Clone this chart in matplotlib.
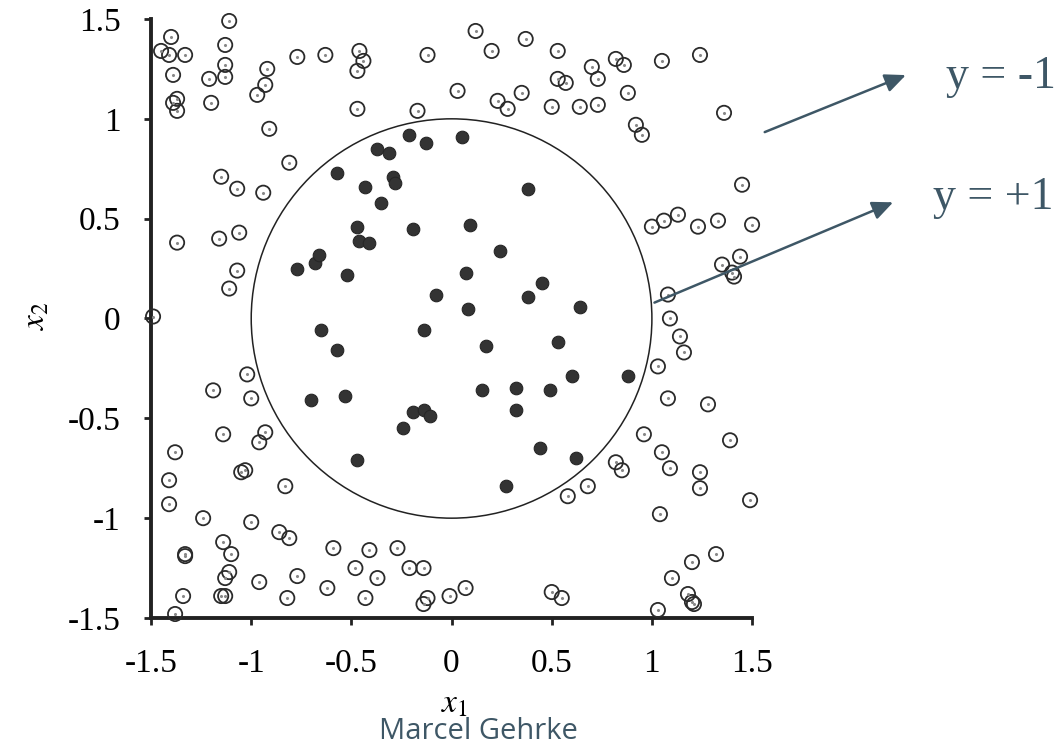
import matplotlib
matplotlib.use('Agg')
import matplotlib.pyplot as plt

# points outside the circle (y = -1)
open_x = [-1.11, -1.40, -1.45, -1.41, -1.33, -1.13, -1.13, -1.13, -1.39, -1.21, -1.37, -1.39, -1.37, -1.20,
          -0.92, -0.93, -0.97, -0.77, -0.63, -0.91, -0.81, -1.15, -1.07, -0.94, -1.37, -1.16, -1.06, -1.07,
          -1.11, -1.49,
          -0.46, -0.44, -0.47, -0.47, -0.12, -0.17, 0.12, 0.20, 0.37, 0.03, 0.23, 0.28, 0.35,
          0.53, 0.70, 0.82, 0.86, 1.05, 1.24, 0.53, 0.57, 0.73, 0.88, 0.50, 0.64, 0.73, 0.92, 0.95,
          1.36, 1.45, 1.00, 1.06, 1.13, 1.23, 1.33, 1.50, 1.35, 1.44, 1.40, 1.41, 1.08,
          1.09, 1.14, 1.16, 1.03, 1.08, 1.28, 0.96, 1.39, 1.05, 1.09, 1.24, 1.24, 1.49, 0.82, 0.85,
          0.68, 0.58, 1.04, 1.32, 1.20, 1.10, 1.18, 1.20, 1.21, 1.03, 0.50, 0.55,
          -0.41, -0.27, -0.48, -0.37, -0.21, -0.14, -0.43, -0.12, -0.14, -0.01, 0.07,
          -1.02, -1.19, -1.00, -1.14, -0.93, -0.96, -1.38, -1.05, -1.03, -0.83, -1.41, -1.41, -1.24,
          -1.00, -0.86, -0.81, -0.59, -1.14, -1.10, -1.33, -1.33, -1.11, -1.13, -0.96, -0.77, -0.62,
          -1.34, -1.15, -1.13, -0.82, -1.38]
open_y = [1.49, 1.41, 1.34, 1.32, 1.32, 1.37, 1.27, 1.21, 1.22, 1.20, 1.10, 1.08, 1.04, 1.08,
          1.25, 1.17, 1.12, 1.31, 1.32, 0.95, 0.78, 0.71, 0.65, 0.63, 0.38, 0.40, 0.43, 0.24,
          0.15, 0.01,
          1.34, 1.29, 1.24, 1.05, 1.32, 1.04, 1.44, 1.34, 1.40, 1.14, 1.09, 1.05, 1.13,
          1.34, 1.26, 1.30, 1.27, 1.29, 1.32, 1.20, 1.18, 1.20, 1.13, 1.06, 1.06, 1.07, 0.97, 0.92,
          1.03, 0.67, 0.46, 0.49, 0.52, 0.46, 0.49, 0.47, 0.27, 0.31, 0.23, 0.21, 0.12,
          0.00, -0.09, -0.17, -0.24, -0.40, -0.43, -0.58, -0.61, -0.67, -0.75, -0.77, -0.85, -0.91, -0.72, -0.76,
          -0.84, -0.89, -0.98, -1.18, -1.22, -1.30, -1.38, -1.42, -1.43, -1.46, -1.37, -1.40,
          -1.16, -1.15, -1.25, -1.30, -1.25, -1.25, -1.40, -1.40, -1.43, -1.39, -1.35,
          -0.28, -0.36, -0.40, -0.58, -0.57, -0.62, -0.67, -0.77, -0.76, -0.84, -0.81, -0.93, -1.00,
          -1.02, -1.07, -1.10, -1.15, -1.12, -1.18, -1.18, -1.19, -1.27, -1.30, -1.32, -1.29, -1.35,
          -1.39, -1.39, -1.39, -1.40, -1.48]

# points inside the circle (y = +1)
fill_x = [-0.57, -0.77, -0.68, -0.66, -0.52,
          -0.21, -0.13, 0.05, -0.37, -0.31, -0.29, -0.28, -0.43, -0.35, 0.38, -0.47, -0.46, -0.41,
          -0.19, 0.09, 0.24, 0.07, 0.45, -0.08, 0.38, 0.08,
          0.64,
          0.53, 0.60, 0.88, 0.49, 0.62,
          -0.14, 0.17, 0.15, 0.32, 0.32, -0.19, -0.14, -0.11, -0.24, -0.47, 0.44, 0.27,
          -0.65, -0.57, -0.70, -0.53]
fill_y = [0.73, 0.25, 0.28, 0.32, 0.22,
          0.92, 0.88, 0.91, 0.85, 0.83, 0.71, 0.68, 0.66, 0.58, 0.65, 0.46, 0.39, 0.38,
          0.45, 0.47, 0.34, 0.23, 0.18, 0.12, 0.11, 0.05,
          0.06,
          -0.12, -0.29, -0.29, -0.36, -0.70,
          -0.06, -0.14, -0.36, -0.35, -0.46, -0.47, -0.46, -0.49, -0.55, -0.71, -0.65, -0.84,
          -0.06, -0.16, -0.41, -0.39]

radius = 1.0
ticks = [-1.5, -1, -0.5, 0, 0.5, 1, 1.5]
tick_labels = ['-1.5', '-1', '-0.5', '0', '0.5', '1', '1.5']

plt.rcParams['mathtext.fontset'] = 'stix'
slate = '#3e5766'

fig = plt.figure(figsize=(10.6, 7.48), dpi=100)
ax = fig.add_axes([0.1425, 0.1738, 0.567, 0.8008])

ax.scatter(open_x, open_y, s=105, facecolors='none', edgecolors='#2b2b2b', linewidths=1.3, clip_on=False, zorder=3)
ax.scatter(open_x, open_y, s=1.5, color='#888888', clip_on=False, zorder=3)
ax.scatter(fill_x, fill_y, s=82, color='#333333', edgecolors='#262626', linewidths=0.8, zorder=3)

ax.add_patch(plt.Circle((0, 0), radius, fill=False, lw=1.1, color='#222222'))

ax.set_xlim(-1.5, 1.5)
ax.set_ylim(-1.5, 1.5)
ax.set_xticks(ticks)
ax.set_yticks(ticks)
ax.set_xticklabels(tick_labels, family='Liberation Serif', fontsize=24)
ax.set_yticklabels(tick_labels, family='Liberation Serif', fontsize=24)
ax.tick_params(direction='out', length=5, width=2, color='#222222', pad=17)
for s in ['top', 'right']:
    ax.spines[s].set_visible(False)
for s in ['left', 'bottom']:
    ax.spines[s].set_linewidth(2.8)
    ax.spines[s].set_color('#222222')

fig.text(0.429, 0.060, '$x_1$', fontsize=24, ha='center', va='center')
fig.text(0.033, 0.578, '$x_2$', fontsize=24, ha='center', va='center', rotation=90)

# arrows + labels
head = '-|>,head_length=0.45,head_width=0.2'
ax.annotate('', xy=(0.857, 0.901), xytext=(0.719, 0.822), xycoords='figure fraction',
            textcoords='figure fraction',
            arrowprops=dict(arrowstyle=head, color=slate, lw=1.8, mutation_scale=28))
ax.annotate('', xy=(0.845, 0.731), xytext=(0.615, 0.594), xycoords='figure fraction',
            textcoords='figure fraction',
            arrowprops=dict(arrowstyle=head, color=slate, lw=1.8, mutation_scale=28))
fig.text(0.892, 0.898, 'y = -1', family='Liberation Serif', fontsize=33, color=slate, va='center')
fig.text(0.880, 0.735, 'y = +1', family='Liberation Serif', fontsize=33, color=slate, va='center')

fig.text(0.451, 0.022, 'Marcel Gehrke', family='Open Sans', fontsize=21, color=slate, ha='center', va='center')

fig.savefig('out.png', dpi=100)
